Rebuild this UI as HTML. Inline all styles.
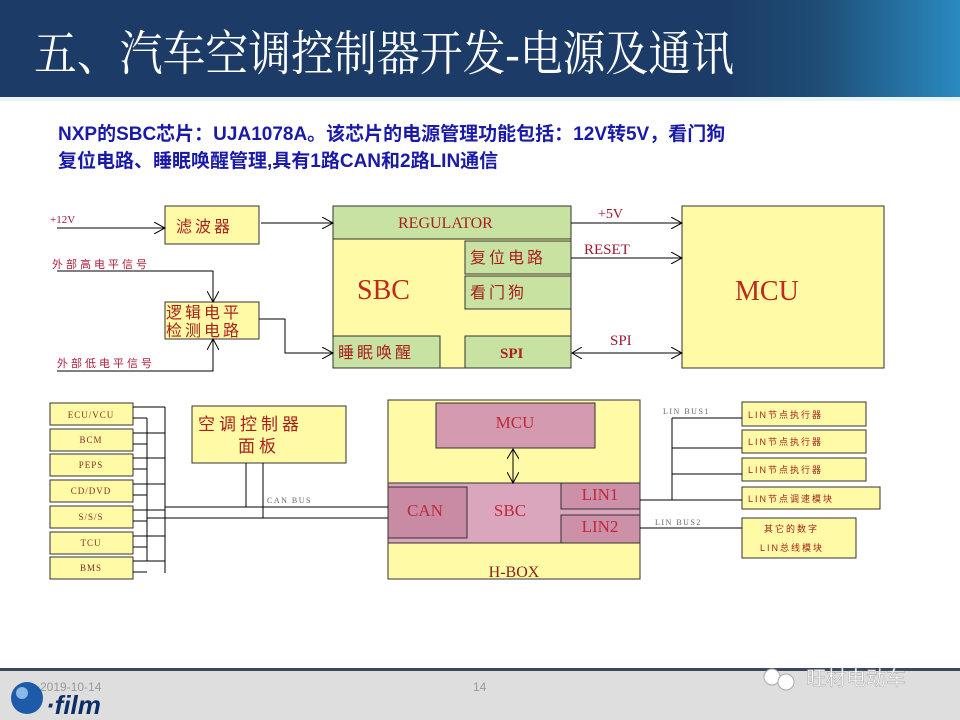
<!DOCTYPE html>
<html><head><meta charset="utf-8"><style>
body{margin:0;width:960px;height:720px;overflow:hidden;background:#fff;font-family:"Liberation Serif","Noto Serif CJK SC",serif}
</style></head><body>
<svg width="960" height="720" xmlns="http://www.w3.org/2000/svg" style="position:absolute;left:0;top:0">
<defs>
<linearGradient id="hg" x1="0" x2="1"><stop offset="0.75" stop-color="#1c3b66"/><stop offset="0.85" stop-color="#1e4c74"/><stop offset="1" stop-color="#2a8ac0"/></linearGradient>
<marker id="a" markerWidth="12" markerHeight="12" refX="11" refY="6" orient="auto" markerUnits="userSpaceOnUse"><path d="M0,0 L11,6 L0,12" fill="none" stroke="#000" stroke-width="1"/></marker>
<marker id="as" markerWidth="12" markerHeight="12" refX="1" refY="6" orient="auto" markerUnits="userSpaceOnUse"><path d="M11,0 L1,6 L11,12" fill="none" stroke="#000" stroke-width="1"/></marker>
</defs>
<rect x="0" y="0" width="960" height="97" fill="url(#hg)"/>
<rect x="0" y="97" width="960" height="4" fill="#e8f4f8"/>
<text x="34" y="70" fill="#fff" font-size="48" textLength="700" lengthAdjust="spacingAndGlyphs" font-family="'Liberation Serif','Noto Serif CJK SC',serif">五、汽车空调控制器开发-电源及通讯</text>
<g font-family="'Liberation Sans','Noto Sans CJK SC',sans-serif" font-weight="bold" font-size="19" fill="#1a1aa8">
<text x="58" y="140">NXP的SBC芯片：UJA1078A。该芯片的电源管理功能包括：12V转5V，看门狗</text>
<text x="58" y="167">复位电路、睡眠唤醒管理,具有1路CAN和2路LIN通信</text>
</g>
<g stroke="#333" stroke-width="1">
<rect x="165" y="206" width="94" height="38" fill="#fffaa5"/>
<rect x="165" y="302" width="94" height="37" fill="#fffaa5"/>
<rect x="333" y="206" width="238" height="162" fill="#fffaa5"/>
<rect x="333" y="206" width="238" height="33" fill="#c8e2a2"/>
<rect x="465" y="241" width="106" height="33" fill="#c8e2a2"/>
<rect x="465" y="276" width="106" height="33" fill="#c8e2a2"/>
<rect x="333" y="336" width="107" height="32" fill="#c8e2a2"/>
<rect x="465" y="336" width="106" height="32" fill="#c8e2a2"/>
<rect x="682" y="206" width="202" height="162" fill="#fffaa5"/>
</g>
<g stroke="#000" stroke-width="1" fill="none">
<line x1="57" y1="228" x2="165" y2="228" marker-end="url(#a)"/>
<line x1="261" y1="223" x2="333" y2="223" marker-end="url(#a)"/>
<polyline points="57,271 213,271 213,302" marker-end="url(#a)"/>
<polyline points="57,371 213,371 213,339" marker-end="url(#a)"/>
<polyline points="259,319 285,319 285,353 333,353" marker-end="url(#a)"/>
<line x1="571" y1="223" x2="682" y2="223" marker-end="url(#a)"/>
<line x1="571" y1="258" x2="682" y2="258" marker-end="url(#a)"/>
<line x1="572" y1="353" x2="682" y2="353" marker-end="url(#a)" marker-start="url(#as)"/>
</g>
<g fill="#9a1830" font-size="11"><text x="50" y="223">+12V</text></g>
<g fill="#b02040" font-size="11" font-family="'Liberation Sans','Noto Sans CJK SC',sans-serif" letter-spacing="3"><text x="52" y="268">外部高电平信号</text><text x="57" y="367">外部低电平信号</text></g>
<g fill="#a82020" font-family="'Liberation Sans','Noto Sans CJK SC',sans-serif" font-size="16" letter-spacing="3">
<text x="176" y="232">滤波器</text>
<text x="166" y="318">逻辑电平</text><text x="166" y="336">检测电路</text>
<text x="470" y="263">复位电路</text>
<text x="470" y="298">看门狗</text>
<text x="338" y="358">睡眠唤醒</text>
</g>
<g fill="#a82020">
<text x="398" y="228" font-size="16">REGULATOR</text>
<text x="500" y="358" font-size="15" font-weight="bold">SPI</text>
<text x="357" y="299" font-size="28" fill="#c0281c">SBC</text>
<text x="735" y="300" font-size="28" fill="#c0281c">MCU</text>
<text x="598" y="218" font-size="14" fill="#9a1830">+5V</text>
<text x="584" y="254" font-size="15" fill="#9a1830">RESET</text>
<text x="610" y="345" font-size="15" fill="#9a1830">SPI</text>
</g>
<g stroke="#333" stroke-width="1" fill="#fffaa5">
<rect x="50" y="403" width="83" height="22"/><rect x="50" y="429" width="83" height="22"/><rect x="50" y="454" width="83" height="22"/><rect x="50" y="480" width="83" height="22"/><rect x="50" y="506" width="83" height="22"/><rect x="50" y="532" width="83" height="22"/><rect x="50" y="557" width="83" height="22"/>
<rect x="192" y="406" width="154" height="57"/>
<rect x="388" y="400" width="252" height="179"/>
<rect x="388" y="483" width="252" height="60" fill="#d9a6bd"/>
<rect x="436" y="403" width="159" height="45" fill="#d49aaf"/>
<rect x="388" y="487" width="79" height="51" fill="#c98aa3"/>
<rect x="561" y="483" width="79" height="26" fill="#cc90a8"/>
<rect x="561" y="515" width="79" height="28" fill="#cc90a8"/>
<rect x="742" y="402" width="124" height="24"/><rect x="742" y="430" width="124" height="23"/><rect x="742" y="458" width="124" height="23"/><rect x="742" y="487" width="138" height="22"/><rect x="742" y="518" width="114" height="40"/>
</g>
<g stroke="#000" stroke-width="1" fill="none">
<path d="M133,407H165M133,418H147M133,433H165M133,444H147M133,458H165M133,469H147M133,484H165M133,495H147M133,510H165M133,521H147M133,536H165M133,547H147M133,561H165M133,572H147"/>
<path d="M165,407V573M147,418V561"/>
<path d="M165,507H388M147,518H388M246,463V507M263,463V518"/>
<line x1="513" y1="449" x2="513" y2="483" marker-end="url(#a)" marker-start="url(#as)"/>
<path d="M640,500H742M672,418V500M672,418H742M672,448H742M672,474H742M640,528H742"/>
</g>
<g fill="#666" font-size="8" letter-spacing="1.5"><text x="267" y="503">CAN BUS</text><text x="663" y="414">LIN BUS1</text><text x="655" y="525">LIN BUS2</text></g>
<g fill="#8a2a2a" font-size="9" text-anchor="middle" letter-spacing="1">
<text x="91" y="418">ECU/VCU</text><text x="91" y="443">BCM</text><text x="91" y="468">PEPS</text><text x="91" y="494">CD/DVD</text><text x="91" y="520">S/S/S</text><text x="91" y="546">TCU</text><text x="91" y="571">BMS</text>
</g>
<g fill="#a82020" font-family="'Liberation Sans','Noto Sans CJK SC',sans-serif" font-size="9" letter-spacing="2">
<text x="748" y="418">LIN节点执行器</text><text x="748" y="445">LIN节点执行器</text><text x="748" y="473">LIN节点执行器</text><text x="748" y="502">LIN节点调速模块</text>
<text x="764" y="532">其它的数字</text><text x="760" y="551">LIN总线模块</text>
</g>
<g fill="#a82020" font-family="'Liberation Sans','Noto Sans CJK SC',sans-serif" font-size="17" letter-spacing="4"><text x="198" y="430">空调控制器</text><text x="238" y="452">面板</text></g>
<g fill="#c0283c" font-size="17" text-anchor="middle">
<text x="515" y="428">MCU</text><text x="425" y="516">CAN</text><text x="510" y="516">SBC</text><text x="600" y="500">LIN1</text><text x="600" y="532">LIN2</text>
</g>
<text x="514" y="577" fill="#8a2020" font-size="16" text-anchor="middle">H-BOX</text>
<rect x="0" y="670" width="960" height="50" fill="#dedede"/>
<rect x="0" y="668" width="960" height="3" fill="#3a4a5c"/>
<text x="40" y="691" fill="#999" font-size="12" font-family="'Liberation Sans',sans-serif">2019-10-14</text>
<text x="473" y="691" fill="#999" font-size="12" font-family="'Liberation Sans',sans-serif">14</text>
<circle cx="27" cy="698" r="16" fill="#1d5aa8"/><circle cx="22" cy="693" r="6" fill="#8ab8e8"/>
<text x="46" y="714" fill="#0c2e66" font-size="26" font-weight="bold" font-style="italic" font-family="'Liberation Sans',sans-serif">·film</text>
<circle cx="772" cy="677" r="8" fill="#fff" stroke="#aaa"/><circle cx="786" cy="682" r="8" fill="#fff" stroke="#aaa"/>
<text x="806" y="685" fill="#fff" font-size="20" font-family="'Liberation Sans','Noto Sans CJK SC',sans-serif" stroke="#999" stroke-width="0.4">旺材电动车</text>
</svg>
</body></html>
